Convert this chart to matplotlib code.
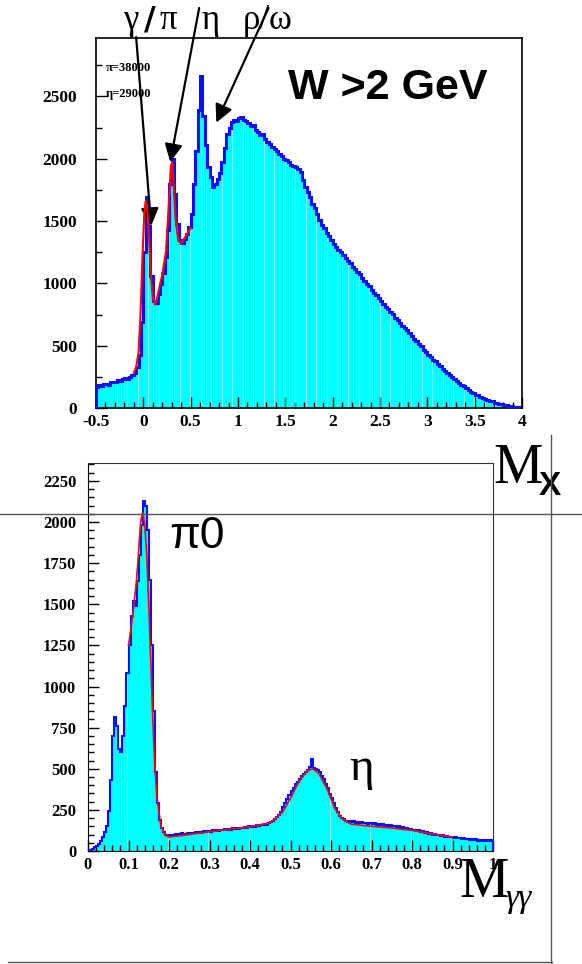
import numpy as np
import matplotlib
matplotlib.use('Agg')
import matplotlib.pyplot as plt
from matplotlib.lines import Line2D
from matplotlib.ticker import MultipleLocator, FuncFormatter

plt.rcParams['font.family'] = ['Liberation Serif', 'DejaVu Serif']
plt.rcParams['font.weight'] = 'bold'
plt.rcParams['axes.unicode_minus'] = False

# missing mass M_X, W > 2 GeV : 0.025 wide bins from -0.5 to 4
mx_range = (-0.5, 4.0)
mx_counts = [
    170, 182, 176, 190, 196, 188, 205, 212, 208, 222, 216, 232, 240, 236, 252, 266, 282, 330, 425, 690,
    1250, 1690, 1460, 1060, 860, 845, 915, 995, 1080, 1210, 1430, 1800, 1995, 1720, 1480, 1350, 1325, 1360, 1400, 1455,
    1560, 1800, 2060, 2390, 2665, 2340, 2110, 1930, 1850, 1775, 1800, 1835, 1885, 1975, 2085, 2195, 2250, 2295, 2315, 2300,
    2325, 2335, 2310, 2300, 2285, 2262, 2270, 2232, 2218, 2192, 2200, 2160, 2132, 2118, 2092, 2078, 2060, 2040, 2022, 2000,
    1990, 1972, 1952, 1940, 1932, 1918, 1890, 1832, 1772, 1730, 1690, 1640, 1602, 1558, 1512, 1470, 1442, 1408, 1380, 1350,
    1318, 1292, 1268, 1252, 1224, 1202, 1183, 1162, 1134, 1112, 1088, 1072, 1044, 1022, 994, 976, 950, 926, 903, 882,
    858, 836, 814, 792, 768, 752, 724, 706, 684, 662, 638, 622, 598, 580, 554, 536, 510, 494, 468, 452,
    428, 412, 388, 374, 350, 336, 314, 300, 278, 266, 246, 234, 214, 202, 184, 174, 158, 148, 132, 124,
    108, 102, 88, 84, 72, 68, 56, 54, 44, 42, 33, 31, 24, 22, 16, 15, 10, 8, 5, 3,
]
# fit over the gamma/pi and eta region
mx_fit_x = [-0.10, -0.075, -0.05, -0.03, -0.01, 0.01, 0.025, 0.04, 0.06, 0.08, 0.10, 0.125,
            0.15, 0.20, 0.24, 0.27, 0.29, 0.305, 0.32, 0.34, 0.37, 0.40, 0.45, 0.50]
mx_fit_y = [280, 330, 450, 750, 1200, 1560, 1660, 1600, 1380, 1060, 880, 830,
            900, 1070, 1260, 1650, 1930, 1975, 1800, 1520, 1340, 1320, 1380, 1445]

# two photon invariant mass M_gg : 0.005 wide bins from 0 to 1
mgg_range = (0.0, 1.0)
mgg_counts = [
    2, 8, 15, 22, 30, 45, 62, 88, 115, 155, 245, 430, 700, 815, 760, 620, 600, 700, 880, 1080,
    1250, 1430, 1520, 1490, 1640, 1800, 1980, 2125, 2100, 1950, 1650, 1250, 850, 480, 290, 190, 140, 115, 100, 95,
    92, 100, 96, 104, 98, 102, 108, 100, 105, 110, 104, 112, 108, 115, 110, 118, 112, 120, 116, 122,
    118, 125, 120, 128, 124, 130, 126, 132, 128, 136, 130, 138, 134, 140, 136, 142, 138, 146, 142, 150,
    145, 152, 148, 156, 150, 160, 156, 162, 160, 170, 175, 185, 195, 205, 220, 240, 265, 290, 315, 340,
    365, 385, 405, 420, 440, 455, 470, 480, 495, 510, 560, 505, 500, 490, 480, 455, 440, 410, 380, 345,
    320, 290, 260, 235, 215, 200, 192, 185, 178, 185, 175, 180, 172, 178, 170, 175, 168, 172, 165, 170,
    163, 168, 160, 165, 158, 162, 155, 160, 152, 157, 150, 155, 148, 150, 142, 146, 138, 142, 132, 136,
    126, 130, 122, 125, 116, 120, 110, 114, 105, 108, 100, 103, 96, 99, 92, 95, 88, 91, 84, 87,
    80, 83, 76, 80, 73, 77, 70, 74, 68, 72, 64, 70, 62, 67, 60, 66, 58, 64, 60, 66,
]
mgg_fit_x = [0.10, 0.11, 0.12, 0.125, 0.13, 0.135, 0.14, 0.145, 0.15, 0.155,
             0.16, 0.165, 0.17, 0.18, 0.19, 0.20, 0.25, 0.30, 0.35, 0.40,
             0.45, 0.48, 0.50, 0.52, 0.54, 0.555, 0.57, 0.59, 0.61, 0.63,
             0.65, 0.70, 0.75, 0.80, 0.85, 0.90]
mgg_fit_y = [1250, 1420, 1650, 1820, 2000, 2060, 1990, 1800, 1500, 1150,
             800, 520, 330, 150, 95, 85, 100, 118, 132, 148,
             172, 235, 320, 420, 485, 500, 470, 380, 255, 190,
             163, 150, 140, 125, 105, 85]

W, H = 582, 964
fig = plt.figure(figsize=(W / 100, H / 100), dpi=100)


def fx(x):
    return x / W


def fy(y):
    return 1 - y / H


def draw_hist(ax, lo, hi, counts, lw, stripe_start, stripe_step):
    edges = np.linspace(lo, hi, len(counts) + 1)
    fill = ax.stairs(counts, edges, fill=True, color='#00ffff', lw=0, zorder=1)
    # faint light streaks inside the filled area
    streaks = ax.vlines(np.arange(stripe_start, hi, stripe_step), 0, max(counts) * 1.2,
                        color='white', lw=0.6, alpha=0.55, zorder=2)
    streaks.set_clip_path(fill)
    ax.stairs(counts, edges, color='#0d0dff', lw=lw, zorder=3)


def style_axes(ax, xmaj, xmin, ymaj, ymin, ypad, size):
    ax.xaxis.set_major_locator(MultipleLocator(xmaj))
    ax.xaxis.set_minor_locator(MultipleLocator(xmin))
    ax.yaxis.set_major_locator(MultipleLocator(ymaj))
    ax.yaxis.set_minor_locator(MultipleLocator(ymin))
    ax.xaxis.set_major_formatter(FuncFormatter(lambda v, p: '%g' % round(v, 3)))
    ax.tick_params(which='both', direction='in', top=False, right=False, width=1, labelsize=size)
    ax.tick_params(which='major', length=8)
    ax.tick_params(which='minor', length=4)
    ax.tick_params(axis='x', pad=4)
    ax.tick_params(axis='y', pad=ypad)


# ---- upper panel: M_X
ax1 = fig.add_axes([fx(96), fy(408), (522 - 96) / W, (408 - 38) / H])
draw_hist(ax1, mx_range[0], mx_range[1], mx_counts, 2.2, -0.28, 0.111)
ax1.plot(mx_fit_x, mx_fit_y, color='red', lw=1.5, zorder=4)
ax1.set_xlim(*mx_range)
ax1.set_ylim(0, 2969)
style_axes(ax1, 0.5, 0.1, 500, 250, 13.5, 12.5)
for s in ax1.spines.values():
    s.set_linewidth(1.2)

ax1.text(0.45, 0.865, 'W >2 GeV', transform=ax1.transAxes, fontsize=31,
         family='Liberation Sans', weight='bold', va='center', ha='left')
ax1.text(0.022, 0.92, 'π=38000', transform=ax1.transAxes, fontsize=9, va='center')
ax1.text(0.022, 0.85, 'η=29000', transform=ax1.transAxes, fontsize=9, va='center')

arrow = dict(arrowstyle='-|>,head_length=0.6,head_width=0.3', mutation_scale=18,
             lw=1.6, color='black', shrinkA=0, shrinkB=0)
ax1.annotate('', xy=(0.083, 1461), xytext=(-0.076, 2977), arrowprops=arrow, annotation_clip=False)
ax1.annotate('', xy=(0.284, 1974), xytext=(0.59, 3210), arrowprops=arrow, annotation_clip=False)
ax1.annotate('', xy=(0.771, 2290), xytext=(1.322, 3210), arrowprops=arrow, annotation_clip=False)

fig.text(fx(131), fy(29), 'γ', fontsize=25, ha='center', weight='normal')
fig.text(fx(150), fy(29), '/', fontsize=23, ha='center', family='DejaVu Sans', weight='bold')
fig.text(fx(168), fy(29), 'π', fontsize=25, ha='center', weight='normal')
fig.text(fx(211), fy(29), 'η', fontsize=25, ha='center', weight='normal')
fig.text(fx(268), fy(29), 'ρ/ω', fontsize=25, ha='center', weight='normal')

# ---- lower panel: M_gg
ax2 = fig.add_axes([fx(88), fy(851), (493 - 88) / W, (851 - 463) / H])
draw_hist(ax2, mgg_range[0], mgg_range[1], mgg_counts, 1.5, 0.097, 0.1)
ax2.plot(mgg_fit_x, mgg_fit_y, color='red', lw=1.2, zorder=4)
ax2.set_xlim(*mgg_range)
ax2.set_ylim(0, 2359)
style_axes(ax2, 0.1, 0.02, 250, 50, 8.5, 12)
for side in ('top', 'right'):
    ax2.spines[side].set_linewidth(0.8)
    ax2.spines[side].set_color('#333333')

ax2.text(0.2, 1843, 'π0', fontsize=32, family='Liberation Sans', weight='normal', va='baseline')
ax2.text(0.645, 430, 'η', fontsize=34, weight='normal', va='baseline')

# axis titles
fig.text(fx(493), fy(483), 'M', fontsize=40, weight='normal')
fig.text(fx(539), fy(495), 'X', fontsize=24, family='Liberation Sans', weight='bold')
fig.text(fx(459), fy(897), 'M', fontsize=40, weight='normal')
fig.text(fx(505), fy(907), 'γγ', fontsize=24, weight='normal', style='italic')

# page rules
rule = dict(color='#555555', lw=1.0)
fig.add_artist(Line2D([0, 1], [fy(514), fy(514)], zorder=10, **rule))
fig.add_artist(Line2D([fx(551), fx(551)], [fy(435), fy(964)], zorder=10, **rule))
fig.add_artist(Line2D([fx(8), fx(552)], [fy(962), fy(962)], zorder=10, **rule))

fig.savefig('out.png', dpi=100)
